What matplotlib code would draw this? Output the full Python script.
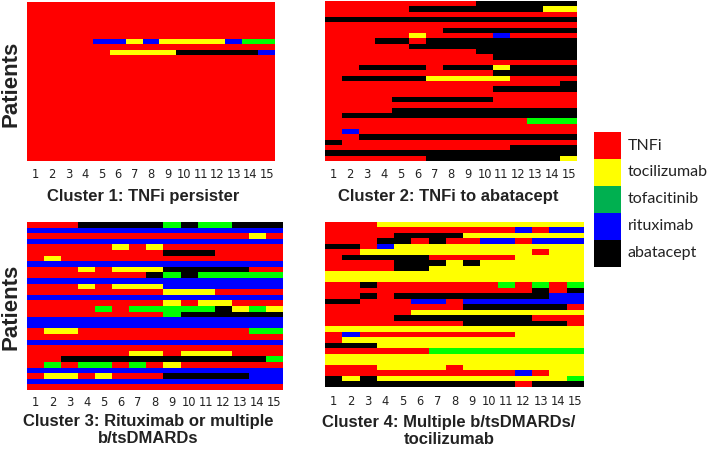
import matplotlib
matplotlib.use("Agg")
import matplotlib.pyplot as plt
from matplotlib.colors import ListedColormap
from matplotlib.patches import Rectangle
import numpy as np

W, H = 708, 453

# ---- categories / legend ----
drugs = ["TNFi", "tocilizumab", "tofacitinib", "rituximab", "abatacept"]
codes = ["R", "Y", "G", "B", "K"]          # R=TNFi, Y=tocilizumab, G=tofacitinib, B=rituximab, K=abatacept
cell_colors = ["#FF0000", "#FFFF00", "#00FF00", "#0000FF", "#000000"]
legend_colors = ["#FF0000", "#FFFF00", "#00B050", "#0000FF", "#000000"]
months = list(range(1, 16))

# ---- data: one string per patient, one letter per period ----
cluster1 = [
    "RRRRRRRRRRRRRRR",
    "RRRRRRRRRRRRRRR",
    "RRRRRRRRRRRRRRR",
    "RRRRRRRRRRRRRRR",
    "RRRRRRRRRRRRRRR",
    "RRRRRRRRRRRRRRR",
    "RRRRRRRRRRRRRRR",
    "RRRRBBYBYYYYBGG",
    "RRRRRRRRRRRRRRR",
    "RRRRRYYYYKKKKKB",
    "RRRRRRRRRRRRRRR",
    "RRRRRRRRRRRRRRR",
    "RRRRRRRRRRRRRRR",
    "RRRRRRRRRRRRRRR",
    "RRRRRRRRRRRRRRR",
    "RRRRRRRRRRRRRRR",
    "RRRRRRRRRRRRRRR",
    "RRRRRRRRRRRRRRR",
    "RRRRRRRRRRRRRRR",
    "RRRRRRRRRRRRRRR",
    "RRRRRRRRRRRRRRR",
    "RRRRRRRRRRRRRRR",
    "RRRRRRRRRRRRRRR",
    "RRRRRRRRRRRRRRR",
    "RRRRRRRRRRRRRRR",
    "RRRRRRRRRRRRRRR",
    "RRRRRRRRRRRRRRR",
    "RRRRRRRRRRRRRRR",
    "RRRRRRRRRRRRRRR",
    "RRRRRRRRRRRRRRR",
]

cluster2 = [
    "RRRRRRRRRKKKKKK",
    "RRRRRKKKKKKKKYY",
    "RRRRRRRRRRRRRRR",
    "KKKKKKKKKKKKKKK",
    "RRRRRRRRRRRRRRR",
    "RRRRRRRKKKKKKKK",
    "RRRRRYRRRRBRRRR",
    "RRRKKRKKKKKKKKK",
    "RRRRRKKKKKKKKKK",
    "RRRRRRRRRKKKKKK",
    "RRRRRRRRRRKKKKK",
    "RRRRRRRRRRRRRRR",
    "RRKKKKRKKKYKKKK",
    "RRRRRRRRRRKKKKK",
    "RKKKKKYYYYYRRRR",
    "RRRRRRRRRRRRRRK",
    "RRRRRRRRRRKKKKK",
    "RRRRRRRRRRRRRRR",
    "RRRRKKKKKKRRRRR",
    "RRRRRRRRRRRRRRR",
    "RRRRKKKKKKKKKKK",
    "RKKKKKKKKKKKKKK",
    "RRRRRRRRRRRRGGG",
    "RRRRRRRRRRRRRRR",
    "RBRRRRRRRRRRRRR",
    "RRKKKKKKKKKKKKK",
    "KRRRRRRRRRRRRRR",
    "RRRRRRRRRRRKKKK",
    "KKKKKKKKKKKKKKK",
    "RRRRRRKKKKKKKKY",
]

cluster3 = [
    "RRRKKKKKGKGGKKK",
    "BBBBBBBBBBBBBBB",
    "RRRRRRRRRRRRRYR",
    "BBBBBBBBBBBBBBB",
    "RRRRRYRYRRRRRRR",
    "RRRRRRRRKKKRRRR",
    "RYRRRRRRRRRRRRR",
    "BBBBBBBBBBBBBBB",
    "RRRYRYYYKKKKKRR",
    "RRRRRRRKGKGGGGG",
    "BBBBBBBBBBBBBBB",
    "RRRYRYYYBBBBBBB",
    "RRRRRRRRYYYRRRR",
    "BBBBBBBBBBBBBBB",
    "RRRRRRRRYRYYRRR",
    "RRRRGRGGGGGKYGY",
    "RRRRRRRRGKKKKKK",
    "BBBBBBBBBBBBBBB",
    "BBBBBBBBBBBBBBB",
    "RYYRRRRRRRRRRGG",
    "RRRRRRRRRRRRRRR",
    "BBBBBBBBBBBBBBB",
    "RRRRRRRRRRRRRRR",
    "RRRRRRYYRYYYRRR",
    "RRKKKKKKKKKKKKG",
    "RGRGGRGRYRRRRRR",
    "BBBBBBBBBBBBBBB",
    "RYYRYRRRKKKKKBB",
    "BBBBBBBBBBBBBBB",
    "RRRRRRRRRRRRRRR",
]

cluster4 = [
    "RRRYYYYYYYYYYYY",
    "RRRRRRRRRRRBRBB",
    "RRRRKKKKYYYYYYY",
    "RRRKKRKRRBBRBBB",
    "KKRBYYYYYYYYYYY",
    "RRYYYYYYYYYYRYY",
    "RKKKKKRRRRRYYYY",
    "RRRRKKKYKYYYYYY",
    "RRRRKKYYYYYYYYY",
    "YYYYYYYYYYYYYYY",
    "YYYYYYYYYYYYYYY",
    "RRKRRRRRRRGRGRG",
    "RRRRRRRRRRRRKRK",
    "RRKRKKKKKKKKKBB",
    "KKRRRBBRBBBBBBB",
    "RRRRRRRRKKKKKKR",
    "RRRRRYYYYYYYYYY",
    "RRRRKKKKKKKKRRR",
    "RRRRRRRRKKKKKKR",
    "YYYYYYYYYYYYYYY",
    "RBRRRRRRRRRYYYY",
    "RYYYYYYYYYYYYYY",
    "KKKYYYYYYYYYYYY",
    "RRRRRRGGGGGGGGG",
    "YYYYYYYYYYYYYYY",
    "YYYYYYYYYYYYYYY",
    "RRRYYYYRYYYYYYY",
    "RRRRRRRRRRRBRYY",
    "KYKYYYYYYYYYYYG",
    "KKKKKKKKKKKRKKK",
]

titles = [
    "Cluster 1: TNFi persister",
    "Cluster 2: TNFi to abatacept",
    "Cluster 3: Rituximab or multiple\nb/tsDMARDs",
    "Cluster 4: Multiple b/tsDMARDs/\ntocilizumab",
]
ylabel = "Patients"

# ---- layout (pixels) ----
boxes = [(27, 2, 275, 161), (325, 1, 577, 161), (27, 222, 283, 390), (325, 222, 584, 387)]
title_pos = [(143, 197), (448, 197), (148, 430), (449, 431)]
tick_pad = [5, 5, 4, 6]

fig = plt.figure(figsize=(W / 100, H / 100), dpi=100)


def fx(x):
    return x / W


def fy(y):
    return 1 - y / H


cmap = ListedColormap(cell_colors)
for rows, box, title, tpos, pad in zip([cluster1, cluster2, cluster3, cluster4],
                                       boxes, titles, title_pos, tick_pad):
    x0, y0, x1, y1 = box
    ax = fig.add_axes([fx(x0), fy(y1), (x1 - x0) / W, (y1 - y0) / H])
    mat = np.array([[codes.index(c) for c in r] for r in rows])
    ax.imshow(mat, cmap=cmap, vmin=-0.5, vmax=len(codes) - 0.5,
              aspect="auto", interpolation="nearest")
    ax.set_xticks(range(len(months)))
    ax.set_xticklabels([str(m) for m in months], fontsize=8.3, family="DejaVu Sans",
                       color="#222222")
    ax.set_yticks([])
    ax.tick_params(length=0, pad=pad)
    for s in ax.spines.values():
        s.set_visible(False)
    fig.text(fx(tpos[0]), fy(tpos[1]), title, ha="center", va="center",
             multialignment="center", fontsize=12, fontweight="bold",
             family="Liberation Sans", color="#222222", linespacing=1.15)

# y labels
for yc in (84, 307):
    fig.text(fx(11), fy(yc), ylabel, rotation=90, ha="center", va="center",
             fontsize=16, fontweight="bold", family="Liberation Sans", color="#222222")

# legend
lx0, lx1, ly0, sq = 594, 621, 132, 27
for i, (name, col) in enumerate(zip(drugs, legend_colors)):
    top = ly0 + i * sq
    fig.add_artist(Rectangle((fx(lx0), fy(top + sq)), (lx1 - lx0) / W, sq / H,
                             transform=fig.transFigure, facecolor=col, edgecolor="none"))
    fig.text(fx(628), fy(top + sq / 2), name, ha="left", va="center",
             fontsize=11.5, family="Lato", color="#222222")

fig.savefig("out.png", dpi=100)
